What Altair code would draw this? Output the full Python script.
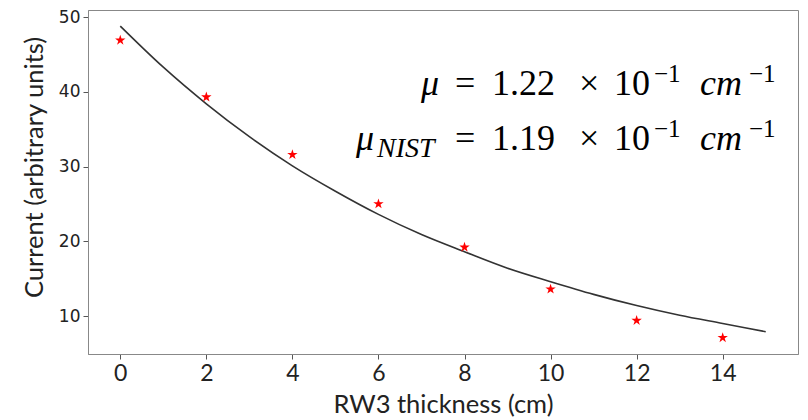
import altair as alt
import pandas as pd

# measured points
thickness = [0, 2, 4, 6, 8, 10, 12, 14]
current = [46.9, 39.3, 31.6, 25.0, 19.2, 13.6, 9.4, 7.1]

# fitted curve
fit_x = [0, 1, 2, 3, 4, 5, 6, 7, 8, 9, 10, 11, 12, 13, 14, 15]
fit_y = [48.8, 43.3, 38.4, 34.0, 30.1, 26.7, 23.6, 20.9, 18.6, 16.4, 14.6, 12.9, 11.4, 10.1, 9.0, 7.9]

x_ticks = [0, 2, 4, 6, 8, 10, 12, 14]
y_ticks = [10, 20, 30, 40, 50]

pts = pd.DataFrame({"t": thickness, "c": current})
fit = pd.DataFrame({"t": fit_x, "c": fit_y})
one = pd.DataFrame({"k": [0]})

STAR = ("M0,-1L0.2245,-0.309L0.951,-0.309L0.3633,0.118L0.5878,0.809L0,0.382"
        "L-0.5878,0.809L-0.3633,0.118L-0.951,-0.309L-0.2245,-0.309Z")

xs = alt.Scale(domain=[-0.75, 15.75], nice=False, zero=False)
ys = alt.Scale(domain=[4.92, 50.95], nice=False, zero=False)

x_axis = alt.Axis(
    values=x_ticks, title="RW3 thickness (cm)", grid=False,
    labelFont="Lato", labelFontSize=23, labelColor="#222", labelPadding=3,
    tickSize=5, tickColor="#555", domainColor="#888",
    titleFont="Lato", titleFontSize=25.5, titleFontWeight="normal", titleColor="#222",
    titleBaseline="alphabetic", titleY=58,
)
y_axis = alt.Axis(
    values=y_ticks, title="Current (arbitrary units)", grid=False,
    labelFont="DejaVu Sans", labelFontSize=17, labelColor="#222", labelPadding=3,
    tickSize=5, tickColor="#555", domainColor="#888",
    titleFont="Lato", titleFontSize=25.5, titleFontWeight="normal", titleColor="#222",
    titleBaseline="alphabetic", titleX=-46, titleY=157, titleAngle=270,
)

line = alt.Chart(fit).mark_line(color="#333", strokeWidth=1.6, interpolate="monotone").encode(
    x=alt.X("t:Q", scale=xs, axis=x_axis),
    y=alt.Y("c:Q", scale=ys, axis=y_axis),
)
stars = alt.Chart(pts).mark_point(shape=STAR, filled=True, color="#ff0000", size=120, opacity=1).encode(
    x=alt.X("t:Q", scale=xs, axis=x_axis),
    y=alt.Y("c:Q", scale=ys, axis=y_axis),
)


def piece(txt, px, py, size=36, italic=False):
    return alt.Chart(one).mark_text(
        font="Liberation Serif", fontSize=size, align="left", baseline="alphabetic",
        color="black", fontStyle="italic" if italic else "normal",
    ).encode(x=alt.value(px), y=alt.value(py), text=alt.value(txt))


# annotation layout (pixel offsets inside the plot area; plot origin at 88,10)
ox, oy = 88, 10
b1, b2 = 95 - oy, 150 - oy
ann = [
    piece("μ", 421 - ox, b1, italic=True),
    piece("=", 455 - ox, b1),
    piece("1.22", 492 - ox, b1),
    piece("×", 579 - ox, b1),
    piece("10", 614 - ox, b1),
    piece("−1", 654 - ox, 82 - oy, size=25),
    piece("cm", 700 - ox, b1, italic=True),
    piece("−1", 749 - ox, 82 - oy, size=25),
    piece("μ", 356 - ox, b2, italic=True),
    piece("NIST", 377 - ox, 157 - oy, size=28, italic=True),
    piece("=", 455 - ox, b2),
    piece("1.19", 492 - ox, b2),
    piece("×", 579 - ox, b2),
    piece("10", 614 - ox, b2),
    piece("−1", 654 - ox, 137 - oy, size=25),
    piece("cm", 700 - ox, b2, italic=True),
    piece("−1", 749 - ox, 137 - oy, size=25),
]

chart = alt.layer(line, stars, *ann).properties(
    width=710, height=344,
    autosize=alt.AutoSizeParams(type="none"),
    padding={"left": 88, "top": 10, "right": 10, "bottom": 66},
).configure_view(stroke="#888", strokeWidth=1)

chart.save("out.html", embed_options={"renderer": "svg", "actions": False})
